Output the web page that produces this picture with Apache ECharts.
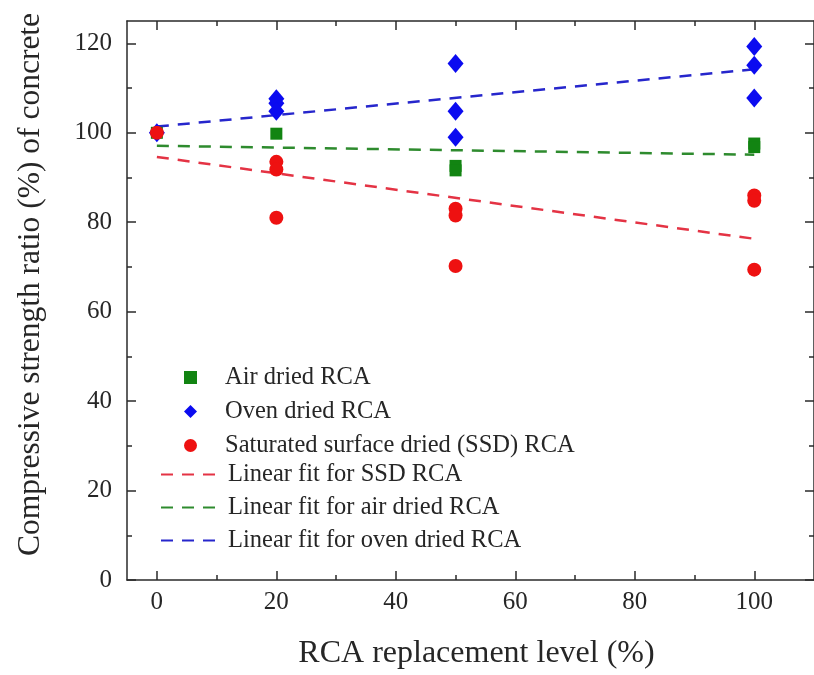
<!DOCTYPE html>
<html>
<head>
<meta charset="utf-8">
<script src="https://cdn.jsdelivr.net/npm/echarts@6/dist/echarts.min.js"></script>
<style>html,body{margin:0;padding:0;background:#fff;}#c{width:814px;height:675px;}</style>
</head>
<body>
<div id="c"></div>
<script>
// ---- data ----
var xTicks = [0, 20, 40, 60, 80, 100];
var xMinorTicks = [10, 30, 50, 70, 90];
var yTicks = [0, 20, 40, 60, 80, 100, 120];
var yMinorTicks = [10, 30, 50, 70, 90, 110];

var airDried = [[0, 100], [20, 99.8], [50, 92.6], [50, 91.6], [100, 97.6], [100, 96.8]];
var ovenDried = [[0, 100], [20, 107.6], [20, 106.6], [20, 104.8], [50, 115.5], [50, 104.8], [50, 99.0], [100, 119.3], [100, 115.1], [100, 107.8]];
var ssdDried = [[0, 100], [20, 93.5], [20, 91.8], [20, 81.0], [50, 83.0], [50, 81.5], [50, 70.2], [100, 86.0], [100, 84.8], [100, 69.4]];

var fitSSD = [[0, 94.6], [100, 76.3]];
var fitAir = [[0, 97.1], [100, 95.1]];
var fitOven = [[0, 101.4], [100, 114.2]];

var names = {
  air: 'Air dried RCA',
  oven: 'Oven dried RCA',
  ssd: 'Saturated surface dried (SSD) RCA',
  fSSD: 'Linear fit for SSD RCA',
  fAir: 'Linear fit for air dried RCA',
  fOven: 'Linear fit for oven dried RCA'
};

var FONT = 'Liberation Serif';
var AX = '#2a2a2a';
var TXT = '#262626';

function xAx(pos, values, len, showLine, labels) {
  return {
    type: 'value', position: pos, min: -5, max: 110,
    axisLine: {show: showLine, onZero: false, lineStyle: {color: AX, width: 1.5}},
    axisTick: {show: true, inside: true, length: len, customValues: values, lineStyle: {color: AX, width: 1.5}},
    axisLabel: {show: labels, customValues: values, fontFamily: FONT, fontSize: 25, color: TXT, margin: 10},
    splitLine: {show: false}
  };
}
function yAx(pos, values, len, showLine, labels) {
  return {
    type: 'value', position: pos, min: 0, max: 125,
    axisLine: {show: showLine, onZero: false, lineStyle: {color: AX, width: 1.5}},
    axisTick: {show: true, inside: true, length: len, customValues: values, lineStyle: {color: AX, width: 1.5}},
    axisLabel: {show: labels, customValues: values, fontFamily: FONT, fontSize: 25, color: TXT, margin: 15},
    splitLine: {show: false}
  };
}

var xA0 = xAx('bottom', xTicks, 9, true, true);
xA0.name = 'RCA replacement level (%)';
xA0.nameLocation = 'middle';
xA0.nameGap = 58;
xA0.nameTextStyle = {fontFamily: FONT, fontSize: 32, color: TXT, padding: [0, 0, 0, 12]};
var yA0 = yAx('left', yTicks, 9, true, true);
yA0.name = 'Compressive strength ratio (%) of concrete';
yA0.nameLocation = 'middle';
yA0.nameGap = 80;
yA0.nameTextStyle = {fontFamily: FONT, fontSize: 31.5, color: TXT, padding: [0, 0, 0, 32]};

function fitLine(name, data, color) {
  return {
    name: name, type: 'line', data: data, symbol: 'none', silent: true,
    lineStyle: {color: color, width: 2.5, type: [12, 9]},
    itemStyle: {color: color}, z: 2
  };
}
function scat(name, data, symbol, size, color) {
  return {
    name: name, type: 'scatter', data: data, symbol: symbol, symbolSize: size,
    itemStyle: {color: color, opacity: 1}, z: 3
  };
}

var option = {
  backgroundColor: '#fff',
  animation: false,
  grid: {left: 127, right: -10, top: 21, bottom: 93, containLabel: false},
  xAxis: [xA0, xAx('bottom', xMinorTicks, 5, false, false), xAx('top', xTicks, 9, true, false), xAx('top', xMinorTicks, 5, false, false)],
  yAxis: [yA0, yAx('left', yMinorTicks, 5, false, false), yAx('right', yTicks, 9, true, false), yAx('right', yMinorTicks, 5, false, false)],
  legend: [
    {
      orient: 'vertical', left: 179, top: 360, itemWidth: 13, itemHeight: 13, itemGap: 9,
      data: [names.air, names.oven, names.ssd],
      textStyle: {fontFamily: FONT, fontSize: 24.5, color: TXT, lineHeight: 24, padding: [0, 0, 0, 23]},
      selectedMode: false
    },
    {
      orient: 'vertical', left: 155, top: 457, itemWidth: 62, itemHeight: 14, itemGap: 8,
      data: [names.fSSD, names.fAir, names.fOven],
      itemStyle: {opacity: 0},
      textStyle: {fontFamily: FONT, fontSize: 24.5, color: TXT, lineHeight: 24},
      selectedMode: false
    }
  ],
  series: [
    fitLine(names.fSSD, fitSSD, '#e43344'),
    fitLine(names.fAir, fitAir, '#2e8b2e'),
    fitLine(names.fOven, fitOven, '#2626cc'),
    scat(names.air, airDried, 'rect', 12, '#128412'),
    scat(names.oven, ovenDried, 'diamond', [16, 19], '#0b0bf0'),
    scat(names.ssd, ssdDried, 'circle', 14, '#ee1111')
  ]
};

var chart = echarts.init(document.getElementById('c'), null, {renderer: 'canvas'});
chart.setOption(option);
</script>
</body>
</html>
